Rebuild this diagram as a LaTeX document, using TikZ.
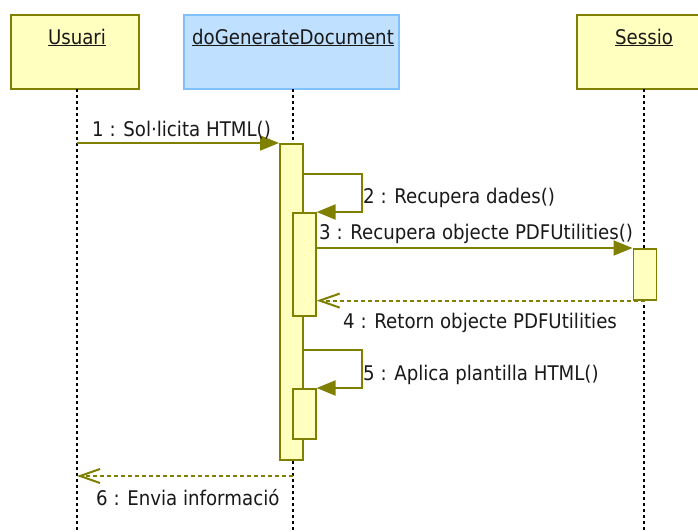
\documentclass[tikz,border=0pt]{standalone}
\usepackage{fontspec}
\setmainfont{DejaVu Sans}[FakeStretch=0.9]
\usetikzlibrary{arrows.meta}

\definecolor{umlolive}{RGB}{128,128,0}
\definecolor{umlyellow}{RGB}{255,255,192}
\definecolor{umlblue}{RGB}{192,224,255}
\definecolor{umlblueline}{RGB}{128,192,255}

\tikzset{
  headbox/.style={draw=umlolive, fill=umlyellow, line width=2pt, minimum height=74pt, inner sep=0pt},
  headblue/.style={headbox, draw=umlblueline, fill=umlblue},
  headtext/.style={anchor=base, inner sep=0pt, text=black!90, font=\fontsize{20.2}{23}\selectfont},
  lifeline/.style={black, line width=2pt, dash pattern=on 3pt off 3pt},
  actbox/.style={draw=umlolive, fill=umlyellow, line width=1.6pt, minimum width=23pt, inner sep=0pt, anchor=north west},
  msg/.style={umlolive, line width=2pt, -{Triangle[length=19pt,width=15pt]}},
  ret/.style={umlolive, line width=2pt, dash pattern=on 4pt off 3pt, -{Straight Barb[length=20pt,width=14pt,line width=2pt]}},
  msgtext/.style={anchor=base west, inner sep=0pt, text=black!90, font=\fontsize{20.2}{23}\selectfont}
}

\begin{document}
\begin{tikzpicture}[x=1pt,y=-1pt]
\useasboundingbox[fill=white] (0,0) rectangle (698,531);

% object headers
\node[headbox, minimum width=128pt] (usuari) at (75,52) {};
\node[headblue, minimum width=215pt] (dogen) at (291.5,52) {};
\node[headbox, minimum width=134pt] (sessio) at (644,52) {};
\node[headtext] (usuari-t) at (77,44) {\underline{Usuari}};
\node[headtext] (dogen-t) at (293,44) {\underline{doGenerateDocument}};
\node[headtext] (sessio-t) at (644,44) {\underline{Sessio}};

% lifelines
\coordinate (ut) at (77,89);   \coordinate (ub) at (77,531);
\coordinate (dt) at (293,89);  \coordinate (db) at (293,531);
\coordinate (st) at (644,89);  \coordinate (sb) at (644,531);
\draw[lifeline] (ut) -- (ub);
\draw[lifeline] (dt) -- (db);
\draw[lifeline] (st) -- (sb);

% activation bars
\node[actbox, minimum height=316pt] (a1) at (279,143) {};
\node[actbox, minimum height=103pt] (a2) at (292,212) {};
\node[actbox, minimum height=51pt] (s1) at (632.5,248) {};
\node[actbox, minimum height=50pt] (a3) at (292,388) {};

% 1: call from Usuari
\draw[msg] (a1.north west -| ut) -- (a1.north west);
\node[msgtext] (m1) at (92,136) {1 : Sol·licita HTML()};

% 2: self call
\draw[msg] ([yshift=-31pt]a1.north east) -| ([xshift=45pt]a2.north east) -- (a2.north east);
\node[msgtext] (m2) at (363,203) {2 : Recupera dades()};

% 3: call to Sessio
\draw[msg] (a2.east |- s1.north west) -- (s1.north west);
\node[msgtext] (m3) at (319,239) {3 : Recupera objecte PDFUtilities()};

% 4: return from Sessio
\draw[ret] (s1.south) -- (a2.east |- s1.south);
\node[msgtext] (m4) at (343,328) {4 : Retorn objecte PDFUtilities};

% 5: self call
\draw[msg] ([yshift=-207pt]a1.north east) -| ([xshift=45pt]a3.north east) -- (a3.north east);
\node[msgtext] (m5) at (363,380) {5 : Aplica plantilla HTML()};

% 6: return to Usuari
\coordinate (r6) at (293,476);
\draw[ret] (r6) -- (r6 -| ub);
\node[msgtext] (m6) at (96,505) {6 : Envia informació};
\end{tikzpicture}
\end{document}
